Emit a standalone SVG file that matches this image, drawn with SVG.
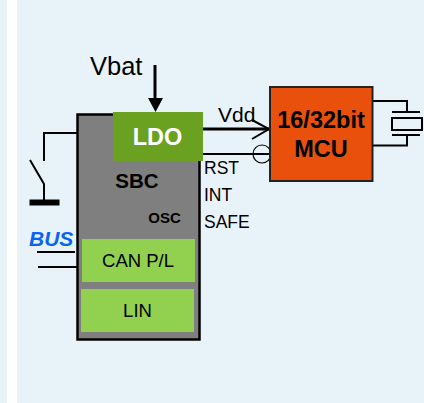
<svg xmlns="http://www.w3.org/2000/svg" width="424" height="403" viewBox="0 0 424 403">
<style>
text{font-family:"Liberation Sans",Arial,sans-serif;fill:#000}
.b{font-weight:bold}
.w{fill:none;stroke:#000;stroke-width:2}
.t{fill:none;stroke:#000;stroke-width:3}
.n{fill:none;stroke:#000;stroke-width:1.2}
.s{font-size:17.500px}
.m{font-size:18.500px}
.g{fill:#92d050}
</style>
<rect width="424" height="403" fill="#e8f3f9"/>
<rect x="7" width="10" height="403" fill="#fff"/>
<g id="connectors">
<path class="t" d="M155 65V100"/>
<path d="M148 98H163L155.500 112Z" fill="#000"/>
<path class="w" d="M78 133H44V161"/>
<path class="w" d="M30 160L44 184V203"/>
<path d="M29.500 199.500H59.500V205.500H29.500Z" fill="#000"/>
<path class="w" d="M37 252H75M38 267H77"/>
<path class="t" d="M203 129H269"/>
<path class="w" d="M252 120L269 129L252 139"/>
<path class="w" d="M203 154H270"/>
<circle class="n" cx="262" cy="154" r="9"/>
<path class="w" d="M372 101H407V112M372 145.500H407V135"/>
<path class="w" d="M392 112H420M392 135H420"/>
<rect x="392" y="118" width="30" height="12" fill="none" stroke="#000" stroke-width="2"/>
</g>
<g id="vbat"><text x="90" y="75" font-size="25.500">Vbat</text></g>
<g id="bus"><text x="29" y="246" font-size="21" class="b" font-style="italic" style="fill:#0a64f0">BUS</text></g>
<g id="sbc">
<rect x="77.500" y="114.500" width="122" height="225" fill="#7f7f7f" stroke="#000" stroke-width="2.500"/>
<text x="137" y="188" font-size="20.500" class="b" text-anchor="middle">SBC</text>
<text x="164.500" y="223" font-size="15" class="b" text-anchor="middle">OSC</text>
</g>
<g id="ldo">
<rect x="113" y="112" width="90" height="49" fill="#6aa120"/>
<text x="157.500" y="145" font-size="23.500" class="b" text-anchor="middle" style="fill:#fff">LDO</text>
</g>
<g id="can">
<rect class="g" x="82" y="239" width="113" height="43"/>
<text x="138" y="267" class="m" text-anchor="middle">CAN P/L</text>
</g>
<g id="lin">
<rect class="g" x="81" y="289" width="113" height="43"/>
<text x="137.500" y="317" class="m" text-anchor="middle">LIN</text>
</g>
<g id="mcu">
<rect x="270" y="87" width="102.500" height="94" fill="#e8500c" stroke="#222" stroke-width="2"/>
<text x="321" y="128" font-size="23.500" class="b" text-anchor="middle">16/32bit</text>
<text x="321" y="157" font-size="23.500" class="b" text-anchor="middle">MCU</text>
</g>
<g id="labels">
<text x="218" y="122" font-size="21">Vdd</text>
<text x="204" y="174" class="s">RST</text>
<text x="204" y="201" class="s">INT</text>
<text x="204" y="228" class="s">SAFE</text>
</g>
</svg>
